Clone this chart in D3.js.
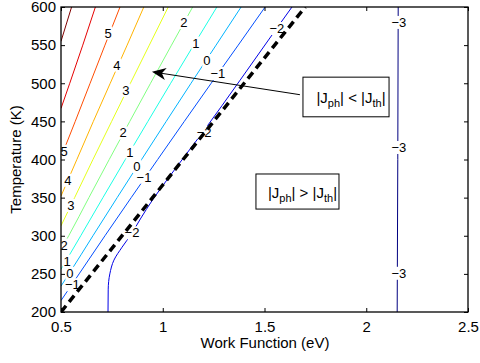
<!DOCTYPE html>
<html>
<head>
<meta charset="utf-8">
<script src="https://cdn.jsdelivr.net/npm/d3@7"></script>
<style>
  body { margin: 0; background: #fff; }
  svg text { font-family: "Liberation Sans", Arial, Helvetica, sans-serif; fill: #000; }
</style>
</head>
<body>
<svg id="chart" width="480" height="363"></svg>
<script>
// contour levels, traced points are [work function (eV), temperature (K)]
const levels = [7, 6, 5, 4, 3, 2, 1, 0, -1, -2, -3];

const line7  = [[0.552, 600], [0.5, 555]];
const line6  = [[0.669, 600], [0.607, 550], [0.543, 500], [0.5, 467]];
const line5  = [[0.790, 600], [0.716, 550], [0.643, 500], [0.570, 450], [0.5, 403]];
const line4  = [[0.907, 600], [0.825, 550], [0.742, 500], [0.659, 450], [0.578, 400], [0.5, 352]];
const line3  = [[1.027, 600], [0.934, 550], [0.841, 500], [0.749, 450], [0.657, 400], [0.567, 350], [0.5, 313]];
const line2  = [[1.147, 600], [1.043, 550], [0.940, 500], [0.838, 450], [0.737, 400], [0.637, 350], [0.538, 300], [0.5, 282]];
const line1  = [[1.266, 600], [1.152, 550], [1.039, 500], [0.927, 450], [0.816, 400], [0.706, 350], [0.597, 300], [0.5, 256]];
const line0  = [[1.385, 600], [1.262, 550], [1.139, 500], [1.017, 450], [0.896, 400], [0.776, 350], [0.657, 300], [0.539, 250], [0.5, 234]];
const lineM1 = [[1.503, 600], [1.371, 550], [1.238, 500], [1.106, 450], [0.975, 400], [0.845, 350], [0.716, 300], [0.589, 250], [0.5, 215]];
const lineM2 = [[1.635, 600], [1.560, 572], [1.380, 504], [1.200, 437], [1.020, 373], [0.950, 347], [0.890, 322],
                [0.845, 302], [0.800, 285], [0.760, 268], [0.740, 250], [0.732, 230], [0.731, 200]];
const lineM3 = [[2.157, 600], [2.155, 400], [2.152, 200]];
const contourLines = [line7, line6, line5, line4, line3, line2, line1, line0, lineM1, lineM2, lineM3];

// |Jph| = |Jth| boundary (dashed)
const boundaryLine = [[0.5, 200], [1.10, 400], [1.70, 600]];

// inline contour labels
const labelLevel = [5, 4, 3, 2, 1, 0, -1, -2, -2, 2, 1, 0, -1, 5, 4, 3, 2, 1, 0, -1, -2, -3, -3, -3];
const labelWf    = [0.731, 0.775, 0.819, 1.104, 1.163, 1.217, 1.271, 1.561, 1.203, 0.805, 0.839, 0.873, 0.908,
                    0.515, 0.534, 0.549, 0.515, 0.530, 0.544, 0.556, 0.849, 2.160, 2.160, 2.160];
const labelT     = [566, 524, 491, 580, 553, 530, 513, 572, 436, 435, 410, 391, 377,
                    411, 373, 340, 288, 267, 251, 236, 304, 580, 416, 251];

const xTicks = [0.5, 1, 1.5, 2, 2.5];
const yTicks = [200, 250, 300, 350, 400, 450, 500, 550, 600];

var margin = {top: 7, right: 12, bottom: 51, left: 61},
    width = 480 - margin.left - margin.right,
    height = 363 - margin.top - margin.bottom;

const svg = d3.select("#chart")
  .append("g")
  .attr("transform", "translate(" + margin.left + "," + margin.top + ")");

const x = d3.scaleLinear().domain([0.5, 2.5]).range([0, width]);
const y = d3.scaleLinear().domain([200, 600]).range([height, 0]);

// jet colormap like matlab
const jet = t => {
  const c = v => Math.max(0, Math.min(1, v));
  return d3.rgb(255 * c(1.5 - Math.abs(4 * t - 3)),
                255 * c(1.5 - Math.abs(4 * t - 2)),
                255 * c(1.5 - Math.abs(4 * t - 1))).formatHex();
};
const colorT = d3.scaleLinear().domain([-3, 7]).range([0, 1]);

const defs = svg.append("defs");
defs.append("clipPath").attr("id", "plotclip")
  .append("rect").attr("width", width).attr("height", height);

// labels first so their boxes can cut gaps in the lines
const labelG = svg.append("g");
const labels = labelLevel.map((lv, i) => {
  const t = labelG.append("text")
    .attr("x", x(labelWf[i]))
    .attr("y", y(labelT[i]))
    .attr("dy", "0.36em")
    .attr("text-anchor", "middle")
    .style("font-size", "13px")
    .text(lv < 0 ? "\u2212" + Math.abs(lv) : String(lv));
  return {lv: lv, node: t.node()};
});

levels.forEach((lv, i) => {
  const m = defs.append("mask").attr("id", "m" + i)
    .attr("maskUnits", "userSpaceOnUse")
    .attr("x", -margin.left).attr("y", -margin.top).attr("width", 480).attr("height", 363);
  m.append("rect").attr("x", -margin.left).attr("y", -margin.top)
    .attr("width", 480).attr("height", 363).attr("fill", "#fff");
  labels.filter(l => l.lv === lv).forEach(l => {
    const b = l.node.getBBox();
    m.append("rect").attr("x", b.x - 1).attr("y", b.y + 1)
      .attr("width", b.width + 2).attr("height", b.height - 2).attr("fill", "#000");
  });
});

const line = d3.line().x(d => x(d[0])).y(d => y(d[1])).curve(d3.curveMonotoneY);

const plot = svg.insert("g", ":first-child").attr("clip-path", "url(#plotclip)");

plot.selectAll(".contour")
  .data(contourLines)
  .enter().append("path")
  .attr("class", "contour")
  .attr("d", line)
  .attr("fill", "none")
  .attr("stroke", (d, i) => jet(colorT(levels[i])))
  .attr("stroke-width", 1)
  .attr("mask", (d, i) => "url(#m" + i + ")");

plot.append("path")
  .datum(boundaryLine)
  .attr("d", line)
  .attr("fill", "none")
  .attr("stroke", "#000")
  .attr("stroke-width", 3.5)
  .attr("stroke-dasharray", "8,5");

// axes, ticks pointing inward on all four sides
const styleAxis = g => {
  g.select(".domain").remove();
  g.selectAll("line").attr("stroke", "#000");
  g.selectAll("text").style("font-size", "15px");
};
svg.append("g")
  .attr("transform", "translate(0," + height + ")")
  .call(d3.axisBottom(x).tickValues(xTicks).tickFormat(d3.format("")).tickSizeInner(-4).tickSizeOuter(0).tickPadding(9))
  .call(styleAxis);
svg.append("g")
  .call(d3.axisTop(x).tickValues(xTicks).tickFormat("").tickSizeInner(-4).tickSizeOuter(0))
  .call(styleAxis);
svg.append("g")
  .call(d3.axisLeft(y).tickValues(yTicks).tickFormat(d3.format("d")).tickSizeInner(-4).tickSizeOuter(0).tickPadding(5))
  .call(styleAxis);
svg.append("g")
  .attr("transform", "translate(" + width + ",0)")
  .call(d3.axisRight(y).tickValues(yTicks).tickFormat("").tickSizeInner(-4).tickSizeOuter(0))
  .call(styleAxis);

svg.append("rect")
  .attr("width", width).attr("height", height)
  .attr("fill", "none").attr("stroke", "#000").attr("stroke-width", 1.3);

svg.append("text")
  .attr("x", width / 2 + 0.5).attr("y", height + 36)
  .attr("text-anchor", "middle").style("font-size", "15px")
  .text("Work Function (eV)");
svg.append("text")
  .attr("transform", "translate(" + (-40) + "," + (height / 2) + ")rotate(-90)")
  .attr("text-anchor", "middle").style("font-size", "15px")
  .text("Temperature (K)");

// annotation boxes
function jBox(x0, y0, x1, y1, sign) {
  svg.append("rect")
    .attr("x", x(x0)).attr("y", y(y0))
    .attr("width", x(x1) - x(x0)).attr("height", y(y1) - y(y0))
    .attr("fill", "#fff").attr("stroke", "#000").attr("stroke-width", 1);
  const t = svg.append("text")
    .attr("x", (x(x0) + x(x1)) / 2 + 5).attr("y", (y(y0) + y(y1)) / 2 + 6)
    .attr("text-anchor", "middle").style("font-size", "15px");
  t.append("tspan").text("|J");
  t.append("tspan").attr("dy", 4).style("font-size", "11px").text("ph");
  t.append("tspan").attr("dy", -4).text("| " + sign + " |J");
  t.append("tspan").attr("dy", 4).style("font-size", "11px").text("th");
  t.append("tspan").attr("dy", -4).text("|");
}
jBox(1.689, 508, 2.112, 456, "<");
jBox(1.458, 381, 1.866, 335, ">");

// arrow from box to the upper-left region
const tail = [x(1.674), y(485)], tip = [x(0.947), y(515)];
const ang = Math.atan2(tail[1] - tip[1], tail[0] - tip[0]);
const pt = (d, o) => [tip[0] + d * Math.cos(ang) - o * Math.sin(ang), tip[1] + d * Math.sin(ang) + o * Math.cos(ang)];
svg.append("line")
  .attr("x1", tail[0]).attr("y1", tail[1])
  .attr("x2", pt(8, 0)[0]).attr("y2", pt(8, 0)[1])
  .attr("stroke", "#000").attr("stroke-width", 1);
svg.append("path")
  .attr("d", "M" + tip + "L" + pt(14, 6) + "L" + pt(10, 0) + "L" + pt(14, -6) + "Z")
  .attr("fill", "#000");
</script>
</body>
</html>
